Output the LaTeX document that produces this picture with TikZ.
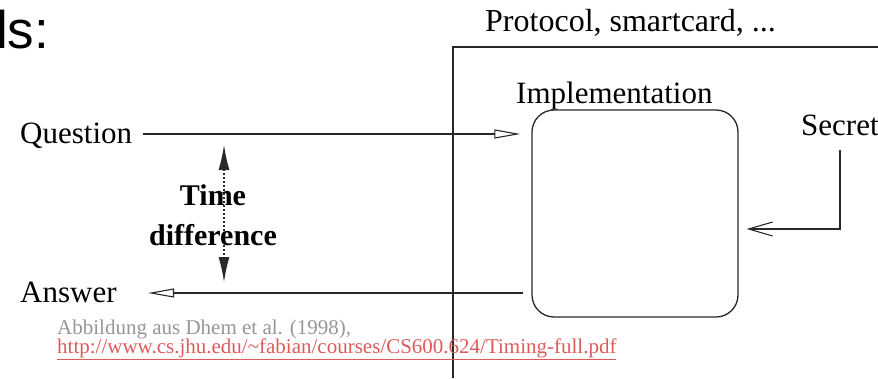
\documentclass[tikz,border=0pt]{standalone}
\usepackage{fontspec}
\setmainfont{Liberation Serif}
\newfontfamily\arialfont{Liberation Sans}
\usetikzlibrary{arrows.meta,calc}
\definecolor{capgray}{RGB}{150,150,150}
\definecolor{linkred}{RGB}{222,90,90}
\definecolor{ink}{RGB}{40,40,40}
\begin{document}
\begin{tikzpicture}[x=1pt,y=-1pt,
  txt/.style={inner sep=0,anchor=base west,font=\fontsize{31}{36}\selectfont},
  captxt/.style={inner sep=0,anchor=base west,font=\fontsize{21}{24}\selectfont},
  conn/.style={draw=ink,line width=1.2pt},
  openhead/.style={-{Triangle[open,length=26pt,width=9pt,line width=1.1pt]}},
  barbhead/.style={-{Straight Barb[length=24pt,width=14pt,line width=1.1pt]}},
  timehead/.style={{Latex[length=25pt,width=11pt]}-{Latex[length=25pt,width=11pt]}}]
\useasboundingbox (0,0) rectangle (878,378);
% heading fragment
\node[inner sep=0,anchor=base west,font=\arialfont\fontsize{53}{60}\selectfont] (head) at (-4,48) {ls:};
% outer frame
\draw[ink,line width=1.3pt] (878,47) -- (453,47) -- (453,378);
\node[txt,font=\fontsize{32}{36}\selectfont] (proto) at (485,31) {Protocol, smartcard, ...};
% implementation
\node[txt] (impllbl) at (516,103) {Implementation};
\node[draw=ink,line width=1.3pt,rounded corners=22pt,minimum width=206pt,minimum height=207pt,inner sep=0] (impl) at (635,213.5) {};
\node[txt] (secret) at (801,135) {Secret};
\node[txt] (question) at (20,143) {Question};
\node[txt] (answer) at (20,302) {Answer};
% connectors
\coordinate (qs) at (143,134);
\coordinate (qe) at ($(impl.west |- qs)+(-11,0)$);
\draw[conn,openhead] (qs) -- (qe);
\coordinate (as) at ($(impl.west |- 0,293)+(-8,0)$);
\coordinate (ae) at (148,293);
\draw[conn,openhead] (as) -- (ae);
\coordinate (ss) at (840,150);
\coordinate (se) at ($(impl.east |- 0,229)+(8,0)$);
\draw[conn,barbhead] (ss) |- (se);
% time difference
\coordinate (tt) at (224,145);
\coordinate (tb) at (224,282);
\draw[ink,line width=1.2pt,dash pattern=on 1.5pt off 2.5pt,timehead] (tt) -- (tb);
\node[txt,anchor=base,font=\bfseries\fontsize{30}{36}\selectfont] (time) at (213,205) {Time};
\node[txt,anchor=base,font=\bfseries\fontsize{30}{36}\selectfont] (diff) at (213,245) {difference};
% caption
\node[captxt,text=capgray] (cap1) at (57,334) {Abbildung aus Dhem et al. (1998),};
\node[captxt,text=linkred] (link) at (57,353) {\underline{http://www.cs.jhu.edu/\textasciitilde fabian/courses/CS600.624/Timing-full.pdf}};
\end{tikzpicture}
\end{document}
